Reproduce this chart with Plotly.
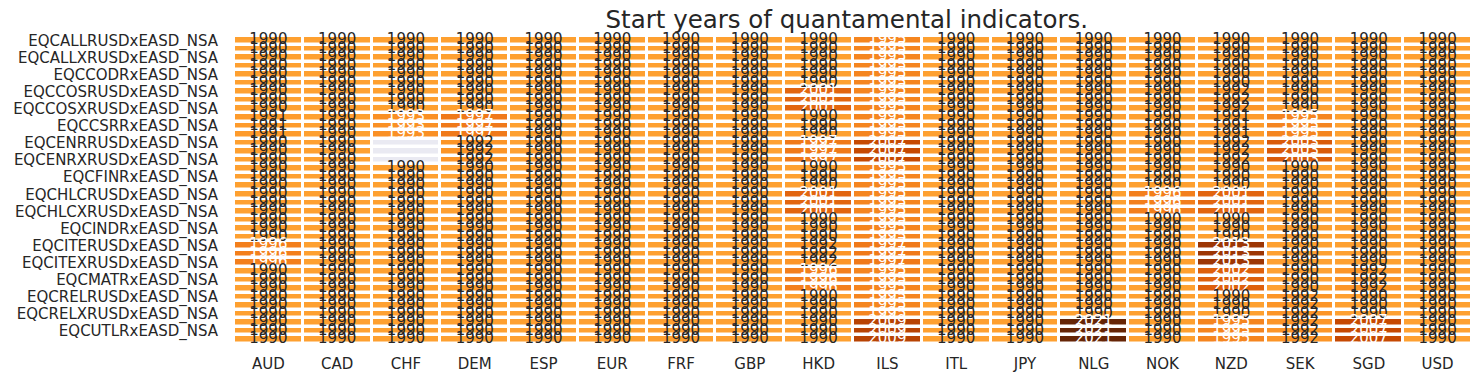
import numpy as np
import plotly.graph_objects as go
from plotly.colors import sample_colorscale
import plotly.express as px

currencies = ["AUD", "CAD", "CHF", "DEM", "ESP", "EUR", "FRF", "GBP", "HKD",
              "ILS", "ITL", "JPY", "NLG", "NOK", "NZD", "SEK", "SGD", "USD"]

indicators = [
    "EQCALLRUSDxEASD_NSA", "EQCALLRxEASD_NSA", "EQCALLXRUSDxEASD_NSA",
    "EQCCODRUSDxEASD_NSA", "EQCCODRxEASD_NSA", "EQCCODXRUSDxEASD_NSA",
    "EQCCOSRUSDxEASD_NSA", "EQCCOSRxEASD_NSA", "EQCCOSXRUSDxEASD_NSA",
    "EQCCSRRUSDxEASD_NSA", "EQCCSRRxEASD_NSA", "EQCCSRXRUSDxEASD_NSA",
    "EQCENRRUSDxEASD_NSA", "EQCENRRxEASD_NSA", "EQCENRXRUSDxEASD_NSA",
    "EQCFINRUSDxEASD_NSA", "EQCFINRxEASD_NSA", "EQCFINXRUSDxEASD_NSA",
    "EQCHLCRUSDxEASD_NSA", "EQCHLCRxEASD_NSA", "EQCHLCXRUSDxEASD_NSA",
    "EQCINDRUSDxEASD_NSA", "EQCINDRxEASD_NSA", "EQCINDXRUSDxEASD_NSA",
    "EQCITERUSDxEASD_NSA", "EQCITERxEASD_NSA", "EQCITEXRUSDxEASD_NSA",
    "EQCMATRUSDxEASD_NSA", "EQCMATRxEASD_NSA", "EQCMATXRUSDxEASD_NSA",
    "EQCRELRUSDxEASD_NSA", "EQCRELRxEASD_NSA", "EQCRELXRUSDxEASD_NSA",
    "EQCUTLRUSDxEASD_NSA", "EQCUTLRxEASD_NSA", "EQCUTLXRUSDxEASD_NSA",
]

N = None  # missing
# start years per currency, one value per indicator (rows in order above)
AUD = [1990, 1990, 1990, 1990, 1990, 1990, 1990, 1990, 1990, 1991, 1991, 1991,
       1990, 1990, 1990, 1990, 1990, 1990, 1990, 1990, 1990, 1990, 1990, 1990,
       1996, 1996, 1996, 1990, 1990, 1990, 1990, 1990, 1990, 1990, 1990, 1990]
CAD = [1990] * 36
CHF = [1990, 1990, 1990, 1990, 1990, 1990, 1990, 1990, 1990, 1993, 1993, 1993,
       N, N, N, 1990, 1990, 1990, 1990, 1990, 1990, 1990, 1990, 1990,
       1990, 1990, 1990, 1990, 1990, 1990, 1990, 1990, 1990, 1990, 1990, 1990]
DEM = [1990, 1990, 1990, 1990, 1990, 1990, 1990, 1990, 1990, 1997, 1997, 1997,
       1992, 1992, 1992, 1990, 1990, 1990, 1990, 1990, 1990, 1990, 1990, 1990,
       1990, 1990, 1990, 1990, 1990, 1990, 1990, 1990, 1990, 1990, 1990, 1990]
ESP = [1990] * 36
EUR = [1990] * 36
FRF = [1990] * 36
GBP = [1990] * 36
HKD = [1990, 1990, 1990, 1990, 1990, 1990, 2001, 2001, 2001, 1990, 1990, 1990,
       1997, 1997, 1997, 1990, 1990, 1990, 2001, 2001, 2001, 1990, 1990, 1990,
       1992, 1992, 1992, 1996, 1996, 1996, 1990, 1990, 1990, 1990, 1990, 1990]
ILS = [1995, 1995, 1995, 1995, 1995, 1995, 1995, 1995, 1995, 1995, 1995, 1995,
       2007, 2007, 2007, 1995, 1995, 1995, 1995, 1995, 1995, 1995, 1995, 1995,
       1997, 1997, 1997, 1995, 1995, 1995, 1995, 1995, 1995, 2009, 2009, 2009]
ITL = [1990] * 36
JPY = [1990] * 36
NLG = [1990, 1990, 1990, 1990, 1990, 1990, 1990, 1990, 1990, 1990, 1990, 1990,
       1990, 1990, 1990, 1990, 1990, 1990, 1990, 1990, 1990, 1990, 1990, 1990,
       1990, 1990, 1990, 1990, 1990, 1990, 1990, 1990, 1990, 2021, 2021, 2021]
NOK = [1990, 1990, 1990, 1990, 1990, 1990, 1990, 1990, 1990, 1990, 1990, 1990,
       1990, 1990, 1990, 1990, 1990, 1990, 1996, 1996, 1996, 1990, 1990, 1990,
       1990, 1990, 1990, 1990, 1990, 1990, 1990, 1990, 1990, 1990, 1990, 1990]
NZD = [1990, 1990, 1990, 1990, 1990, 1990, 1992, 1992, 1992, 1991, 1991, 1991,
       1992, 1992, 1992, 1990, 1990, 1990, 2001, 2001, 2001, 1990, 1990, 1990,
       2013, 2013, 2013, 2002, 2002, 2002, 1990, 1990, 1990, 1995, 1995, 1995]
SEK = [1990, 1990, 1990, 1990, 1990, 1990, 1990, 1990, 1990, 1995, 1995, 1995,
       2003, 2003, 2003, 1990, 1990, 1990, 1990, 1990, 1990, 1990, 1990, 1990,
       1990, 1990, 1990, 1990, 1990, 1990, 1992, 1992, 1992, 1992, 1992, 1992]
SGD = [1990, 1990, 1990, 1990, 1990, 1990, 1990, 1990, 1990, 1990, 1990, 1990,
       1990, 1990, 1990, 1990, 1990, 1990, 1990, 1990, 1990, 1990, 1990, 1990,
       1990, 1990, 1990, 1992, 1992, 1992, 1990, 1990, 1990, 2007, 2007, 2007]
USD = [1990] * 36

columns = [AUD, CAD, CHF, DEM, ESP, EUR, FRF, GBP, HKD, ILS, ITL, JPY,
           NLG, NOK, NZD, SEK, SGD, USD]

Z = np.array([[np.nan if v is None else float(v) for v in col] for col in columns]).T  # rows x cols

# seaborn-like recentred YlOrBr colormap (center = mean of values)
vals = Z[~np.isnan(Z)]
vmin, vmax, center = vals.min(), vals.max(), vals.mean()
vrange = max(vmax - center, center - vmin)
lo, hi = center - vrange, center + vrange
cmin, cmax = (vmin - lo) / (hi - lo), (vmax - lo) / (hi - lo)
base = px.colors.sequential.YlOrBr
n = 64
pts = np.linspace(cmin, cmax, n)
cols_sampled = sample_colorscale(base, list(pts))
colorscale = [[i / (n - 1), c] for i, c in enumerate(cols_sampled)]


def color_at(v):
    t = (v - vmin) / (vmax - vmin)
    return sample_colorscale(base, [cmin + t * (cmax - cmin)])[0]


def rel_lum(rgbstr):
    nums = rgbstr[rgbstr.index("(") + 1:rgbstr.index(")")].split(",")
    rgb = np.array([float(x) for x in nums[:3]]) / 255.0
    rgb = np.where(rgb <= .03928, rgb / 12.92, ((rgb + .055) / 1.055) ** 2.4)
    return float(rgb.dot([.2126, .7152, .0722]))


missing = np.where(np.isnan(Z), 1.0, np.nan)

tx, ty, tt, tc = [], [], [], []
for i, name in enumerate(indicators):
    for j, cur in enumerate(currencies):
        v = Z[i, j]
        if np.isnan(v):
            continue
        tx.append(cur)
        ty.append(name)
        tt.append(f"{v:.0f}")
        tc.append("#262626" if rel_lum(color_at(v)) > .408 else "#ffffff")

fig = go.Figure()
fig.add_trace(go.Heatmap(
    z=Z, x=currencies, y=indicators, colorscale=colorscale,
    zmin=vmin, zmax=vmax, showscale=False, xgap=3, ygap=3.5,
    hoverongaps=False,
))
fig.add_trace(go.Heatmap(
    z=missing, x=currencies, y=indicators,
    colorscale=[[0, "#EAEAF2"], [1, "#EAEAF2"]], showscale=False,
    xgap=3, ygap=3.5, hoverinfo="skip",
))
fig.add_trace(go.Scatter(
    x=tx, y=ty, text=tt, mode="text",
    textfont=dict(family="DejaVu Sans", size=15, color=tc),
    textposition="middle center", hoverinfo="skip", showlegend=False,
    cliponaxis=False,
))

W, H = 1465, 367
fig.update_layout(
    width=W, height=H,
    margin=dict(l=226, r=1, t=28, b=31),
    paper_bgcolor="white", plot_bgcolor="white",
    font=dict(family="DejaVu Sans", color="#262626"),
    title=dict(text="Start years of quantamental indicators.",
               font=dict(family="DejaVu Sans", size=24.5, color="#262626"),
               x=0.495, xref="paper", xanchor="center",
               y=1 - 11 / H, yref="container", yanchor="middle"),
    showlegend=False,
)
fig.update_xaxes(categoryorder="array", categoryarray=currencies,
                 range=[-0.5, len(currencies) - 0.5], autorange=False,
                 showgrid=False, zeroline=False, showline=False,
                 ticks="", tickfont=dict(size=15, color="#262626"),
                 ticklabelstandoff=9, automargin=False)
fig.update_yaxes(categoryorder="array", categoryarray=indicators,
                 range=[len(indicators) - 0.5, -0.5], autorange=False,
                 showgrid=False, zeroline=False,
                 showline=False, ticks="",
                 tickmode="array", tickvals=indicators[::2],
                 ticktext=indicators[::2],
                 tickfont=dict(size=15, color="#262626"),
                 ticklabelstandoff=15, automargin=False)

fig.write_html("out.html")
